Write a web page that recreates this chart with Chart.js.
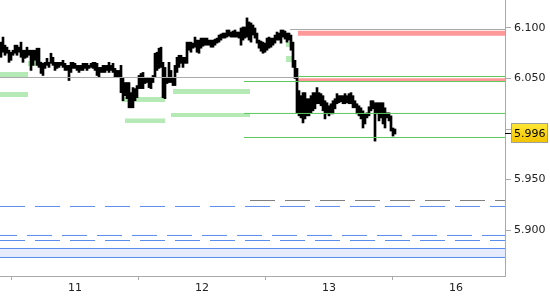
<!DOCTYPE html>
<html>
<head>
<meta charset="utf-8">
<script src="https://cdn.jsdelivr.net/npm/chart.js@4.4.1/dist/chart.umd.min.js"></script>
<style>
html,body{margin:0;padding:0;background:#fff;}
#wrap{width:550px;height:300px;position:relative;}
</style>
</head>
<body>
<div id="wrap"><canvas id="c"></canvas></div>
<script>
// ---- data ----
const dayTickIndex = [37, 100.5, 164, 227.5];
const dayLabels = ['11', '12', '13', '16'];
const priceTicks = [5.900, 5.950, 6.000, 6.050, 6.100];
const lastPrice = 5.996;

const barHigh = [
6.086,6.091,6.083,6.081,6.078,6.076,6.078,6.083,6.083,6.081,
6.086,6.078,6.078,6.081,6.078,6.078,6.078,6.078,6.080,6.080,
6.066,6.065,6.066,6.070,6.066,6.075,6.071,6.066,6.066,6.066,
6.066,6.068,6.065,6.063,6.063,6.066,6.066,6.065,6.063,6.063,
6.063,6.065,6.065,6.065,6.063,6.065,6.066,6.066,6.065,6.061,
6.061,6.063,6.063,6.063,6.066,6.063,6.065,6.060,6.058,6.058,
6.063,6.051,6.046,6.046,6.046,6.036,6.041,6.040,6.043,6.053,
6.055,6.056,6.051,6.051,6.051,6.051,6.053,6.075,6.076,6.080,
6.081,6.066,6.061,6.051,6.066,6.058,6.051,6.063,6.071,6.073,
6.073,6.071,6.071,6.086,6.086,6.086,6.085,6.091,6.088,
6.088,6.090,6.090,6.090,6.090,6.088,6.088,6.088,6.089,6.090,
6.093,6.094,6.095,6.095,6.098,6.098,6.096,6.097,6.098,6.096,
6.096,6.100,6.101,6.101,6.110,6.106,6.105,6.103,6.100,6.095,
6.088,6.087,6.086,6.085,6.090,6.091,6.090,6.090,6.093,6.096,
6.095,6.098,6.098,6.097,6.095,6.095,6.093,6.086,6.068,6.060,
6.038,6.033,6.036,6.036,6.030,6.030,6.033,6.036,6.036,6.041,
6.036,6.035,6.033,6.028,6.026,6.023,6.025,6.028,6.030,6.035,
6.033,6.033,6.033,6.035,6.033,6.035,6.036,6.033,6.028,6.025,
6.023,6.021,6.018,6.015,6.016,6.022,6.028,6.028,6.026,6.026,
6.026,6.026,6.026,6.021,6.016,6.016,6.013,6.001,6.000
];
const barLow = [
6.071,6.076,6.073,6.075,6.066,6.068,6.073,6.075,6.073,6.076,
6.071,6.066,6.070,6.071,6.073,6.058,6.063,6.068,6.063,6.061,
6.055,6.053,6.060,6.063,6.061,6.065,6.063,6.058,6.060,6.061,
6.063,6.061,6.058,6.058,6.048,6.056,6.060,6.060,6.058,6.056,
6.058,6.058,6.060,6.058,6.060,6.061,6.060,6.058,6.053,6.051,
6.056,6.056,6.056,6.058,6.056,6.058,6.056,6.051,6.051,6.051,
6.036,6.028,6.033,6.030,6.021,6.021,6.021,6.028,6.031,6.040,
6.040,6.040,6.045,6.046,6.041,6.040,6.046,6.051,6.058,6.060,
6.061,6.031,6.030,6.045,6.046,6.046,6.043,6.043,6.056,6.061,
6.065,6.061,6.065,6.065,6.078,6.076,6.080,6.081,6.076,
6.075,6.080,6.082,6.083,6.083,6.083,6.081,6.081,6.083,6.085,
6.086,6.088,6.090,6.090,6.091,6.092,6.091,6.091,6.091,6.091,
6.090,6.083,6.088,6.090,6.091,6.088,6.086,6.093,6.090,6.085,
6.080,6.077,6.075,6.076,6.078,6.080,6.081,6.083,6.085,6.088,
6.088,6.085,6.091,6.089,6.086,6.088,6.078,6.061,6.050,6.016,
6.013,6.011,6.006,6.010,6.013,6.013,6.016,6.018,6.020,6.025,
6.025,6.023,6.018,6.010,6.015,6.013,6.015,6.015,6.020,6.025,
6.026,6.027,6.025,6.025,6.026,6.025,6.025,6.021,6.021,6.015,
6.013,6.010,6.001,6.005,6.011,6.013,6.018,6.020,5.988,6.015,
6.008,6.011,6.005,6.001,6.011,6.008,5.998,5.993,5.995
];

// [top, bottom, fromIndex, toIndex]
const greenZones = [
  [6.0564, 6.0515, -0.5, 13.5],
  [6.0366, 6.0317, -0.5, 13.5],
  [6.0673, 6.0624, 13.5, 20.5],
  [6.0317, 6.0267, 60.5, 82],
  [6.0104, 6.0059, 62, 82],
  [6.0396, 6.0347, 86, 124.5],
  [6.0158, 6.0119, 85, 124.5],
  [6.0861, 6.0812, 142.5, 146],
  [6.0723, 6.0663, 142.5, 146]
];
const redZones = [
  [6.0973, 6.0924, 148.5, 252],
  [6.0503, 6.0473, 148.5, 252]
];
const blueZone = [5.8817, 5.8728, -0.5, 252];
// [value, fromIndex, toIndex]
const grayLevels = [
  [6.0510, -0.5, 148.5],
  [6.0985, 144.5, 252]
];
const greenLevels = [
  [6.0520, 148.5, 252],
  [6.0470, 121.5, 252],
  [6.0154, 121.5, 252],
  [5.9916, 121.5, 252]
];
const grayDashed = [[5.9292, 124.5, 252]];
const blueDashed = [
  [5.9233, -0.5, 252],
  [5.8946, -0.5, 252],
  [5.8896, -0.5, 252]
];

// ---- datasets ----
const datasets = [];
function zoneSet(z, color, order) {
  return {type:'line', data:[{x:z[2], y:z[0]}, {x:z[3], y:z[0]}],
    borderWidth:0, pointRadius:0, backgroundColor:color,
    fill:{value:z[1]}, order:order};
}
function levelSet(l, color, dash, dashOffset, order) {
  return {type:'line', data:[{x:l[1], y:l[0]}, {x:l[2], y:l[0]}],
    borderColor:color, borderWidth:1, pointRadius:0, fill:false,
    borderDash:dash || [], borderDashOffset:dashOffset || 0, order:order};
}
greenZones.forEach(z => datasets.push(zoneSet(z, '#b5e9b5', 20)));
redZones.forEach(z => datasets.push(zoneSet(z, '#ff9999', 20)));
datasets.push(zoneSet(blueZone, '#e6ecfd', 20));
datasets.push(levelSet([blueZone[0], blueZone[2], blueZone[3]], '#5b8def', null, 0, 2));
datasets.push(levelSet([blueZone[1], blueZone[2], blueZone[3]], '#5b8def', null, 0, 2));
datasets.push({type:'bar',
  data: barHigh.map((h, i) => ({x:i, y:[barLow[i], h]})),
  backgroundColor:'#000', borderWidth:0, barThickness:2, grouped:false, order:10});
grayLevels.forEach(l => datasets.push(levelSet(l, '#aaaaaa', null, 0, 2)));
greenLevels.forEach(l => datasets.push(levelSet(l, '#5cc85c', null, 0, 2)));
grayDashed.forEach(l => datasets.push(levelSet(l, '#808080', [25,10], 0, 2)));
blueDashed.forEach((l, k) => datasets.push(levelSet(l, '#5b8def', [25,10], k === 1 ? 8 : 0, 2)));

const priceBox = {
  id:'priceBox',
  afterDraw(chart) {
    const ctx = chart.ctx, ys = chart.scales.y, area = chart.chartArea;
    const y = Math.round(ys.getPixelForValue(lastPrice));
    ctx.save();
    ctx.strokeStyle = '#000'; ctx.lineWidth = 1;
    ctx.beginPath(); ctx.moveTo(area.right, y + 0.5); ctx.lineTo(area.right + 6, y + 0.5); ctx.stroke();
    const bx = area.right + 6, bw = 37, bh = 20, by = y - 10;
    const g = ctx.createLinearGradient(0, by, 0, by + bh);
    g.addColorStop(0, '#ffe838'); g.addColorStop(1, '#f2c200');
    ctx.fillStyle = g; ctx.fillRect(bx, by, bw, bh);
    ctx.strokeStyle = '#a0a0a0'; ctx.strokeRect(bx + 0.5, by + 0.5, bw - 1, bh - 1);
    ctx.fillStyle = '#000'; ctx.font = '11px "DejaVu Sans"';
    ctx.textBaseline = 'middle'; ctx.textAlign = 'left';
    ctx.fillText(lastPrice.toFixed(3), bx + 3, y + 1);
    ctx.restore();
  }
};

function noPad(s) { s.paddingTop = 0; s.paddingBottom = 0; s.paddingLeft = 0; s.paddingRight = 0; }

new Chart(document.getElementById('c'), {
  type:'bar',
  data:{datasets},
  plugins:[priceBox],
  options:{
    responsive:true, maintainAspectRatio:false, animation:false,
    layout:{padding:0, autoPadding:false},
    plugins:{legend:{display:false}, tooltip:{enabled:false}},
    scales:{
      x:{type:'linear', min:-0.5, max:252, offset:false,
        grid:{drawOnChartArea:false, drawTicks:true, tickLength:4, color:'#aaaaaa'},
        border:{color:'#aaaaaa'},
        afterBuildTicks(s){ s.ticks = dayTickIndex.map(v => ({value:v})); },
        afterFit(s){ s.height = 24; noPad(s); },
        ticks:{color:'#222', font:{family:'DejaVu Sans', size:11}, padding:2, maxRotation:0,
          callback:(v) => dayLabels[dayTickIndex.indexOf(v)]}
      },
      y:{type:'linear', position:'right', min:5.85446, max:6.12772,
        grid:{drawOnChartArea:false, drawTicks:true, tickLength:6, color:'#aaaaaa'},
        border:{color:'#aaaaaa'},
        afterBuildTicks(s){ s.ticks = priceTicks.map(v => ({value:v})); },
        afterFit(s){ s.width = 45; noPad(s); },
        ticks:{color:'#222', font:{family:'DejaVu Sans', size:11}, padding:3,
          callback:(v) => Number(v).toFixed(3)}
      }
    }
  }
});
</script>
</body>
</html>
